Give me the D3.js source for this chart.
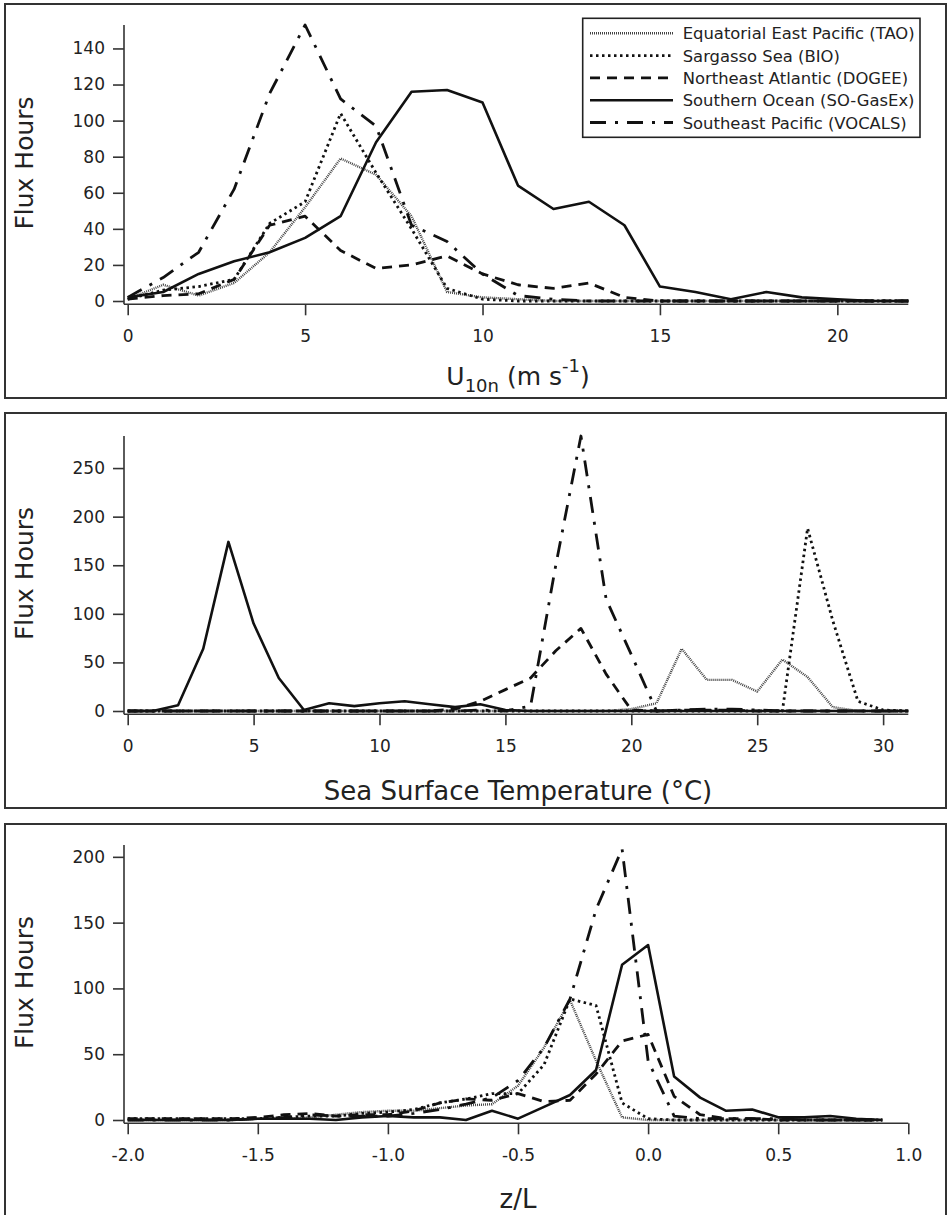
<!DOCTYPE html>
<html><head><meta charset="utf-8">
<script src="https://cdn.jsdelivr.net/npm/d3@7"></script>
<style>
html,body{margin:0;padding:0;background:#fff;}
svg{display:block;}
text{font-family:"DejaVu Sans","Lucida Grande",sans-serif;fill:#222;}
</style></head><body>
<svg id="chart" width="951" height="1215"></svg>
<script>
// ---------- DATA ----------
const seriesNames = [
  "Equatorial East Pacific (TAO)",
  "Sargasso Sea (BIO)",
  "Northeast Atlantic (DOGEE)",
  "Southern Ocean (SO-GasEx)",
  "Southeast Pacific (VOCALS)"
];

// Panel 1: wind speed U10n bins (m/s)
const windBins   = [0,1,2,3,4,5,6,7,8,9,10,11,12,13,14,15,16,17,18,19,20,21,22];
const windTAO    = [1,9,3,10,27,52,79,70,47,5,2,1,0,0,0,0,0,0,0,0,0,0,0];
const windBIO    = [1,6,8,12,43,55,104,71,40,7,1,0,0,0,0,0,0,0,0,0,0,0,0];
const windDOGEE  = [1,3,4,12,42,47,28,18,20,25,15,9,7,10,2,0,0,0,0,0,0,0,0];
const windSO     = [2,5,15,22,27,35,47,88,116,117,110,64,51,55,42,8,5,1,5,2,1,0,0];
const windVOCALS = [2,13,27,62,115,153,112,97,42,33,15,3,1,0,0,0,0,0,0,0,0,0,0];
const windXTicks = [0,5,10,15,20];
const windXLabels = ["0","5","10","15","20"];
const windYTicks = [0,20,40,60,80,100,120,140];
const windYLabels = ["0","20","40","60","80","100","120","140"];

// Panel 2: sea surface temperature bins (deg C)
const sstBins   = [0,1,2,3,4,5,6,7,8,9,10,11,12,13,14,15,16,17,18,19,20,21,22,23,24,25,26,27,28,29,30,31];
const sstTAO    = [0,0,0,0,0,0,0,0,0,0,0,0,0,0,0,0,0,0,0,0,2,8,64,32,32,20,53,35,4,0,0,0];
const sstBIO    = [0,0,0,0,0,0,0,0,0,0,0,0,0,0,0,0,0,0,0,0,0,0,0,0,0,0,0,188,93,10,1,0];
const sstDOGEE  = [0,0,0,0,0,0,0,0,0,0,0,0,0,2,10,22,34,62,85,38,1,0,1,1,1,0,0,0,0,0,0,0];
const sstSO     = [0,0,6,64,174,90,34,1,8,5,8,10,7,4,7,1,0,0,0,0,0,0,0,0,0,0,0,0,0,0,0,0];
const sstVOCALS = [0,0,0,0,0,0,0,0,0,0,0,0,0,0,1,0,5,150,283,115,58,0,1,2,2,1,0,0,0,0,0,0];
const sstXTicks = [0,5,10,15,20,25,30];
const sstXLabels = ["0","5","10","15","20","25","30"];
const sstYTicks = [0,50,100,150,200,250];
const sstYLabels = ["0","50","100","150","200","250"];

// Panel 3: stability z/L bins
const zlBins   = [-2.0,-1.9,-1.8,-1.7,-1.6,-1.5,-1.4,-1.3,-1.2,-1.1,-1.0,-0.9,-0.8,-0.7,-0.6,-0.5,-0.4,-0.3,-0.2,-0.1,0.0,0.1,0.2,0.3,0.4,0.5,0.6,0.7,0.8,0.9];
const zlTAO    = [0,0,0,0,0,1,1,2,4,6,7,7,9,11,12,26,55,91,45,2,0,0,0,0,0,0,0,0,0,0];
const zlBIO    = [1,1,1,1,1,1,2,3,3,5,6,8,13,16,20,20,42,92,87,13,1,0,0,0,0,0,0,0,0,0];
const zlDOGEE  = [1,1,1,1,1,2,4,5,3,4,4,7,13,16,15,20,14,15,35,60,65,18,4,1,1,0,0,0,0,0];
const zlSO     = [0,0,0,0,0,1,1,1,0,2,3,2,2,0,7,1,10,19,38,118,133,33,17,7,8,2,2,3,1,0];
const zlVOCALS = [0,0,0,0,0,1,2,4,3,3,3,5,8,12,17,30,55,92,160,206,45,3,1,1,1,1,0,0,0,0];
const zlXTicks = [-2.0,-1.5,-1.0,-0.5,0.0,0.5,1.0];
const zlXLabels = ["-2.0","-1.5","-1.0","-0.5","0.0","0.5","1.0"];
const zlYTicks = [0,50,100,150,200];
const zlYLabels = ["0","50","100","150","200"];

// ---------- STYLE / LAYOUT ----------
const lineStyles = [
  {stroke:"#444", width:2.4, dash:"1,1"},
  {stroke:"#111", width:2.8, dash:"2.5,3.5"},
  {stroke:"#111", width:2.8, dash:"10,7"},
  {stroke:"#111", width:2.6, dash:null},
  {stroke:"#111", width:2.8, dash:"16,9,3,9"}
];

const svg = d3.select("#chart");
const X0 = 127.7, X1 = 908.3, AXIS_X = 124;

const panels = [
  {bins:windBins, series:[windTAO,windBIO,windDOGEE,windSO,windVOCALS], xdom:[0,22], ymax:153,
   xt:windXTicks, xl:windXLabels, yt:windYTicks, yl:windYLabels,
   frame:[4,398], yr:[301,25], titleY:385, title:"wind"},
  {bins:sstBins, series:[sstTAO,sstBIO,sstDOGEE,sstSO,sstVOCALS], xdom:[0,31], ymax:283,
   xt:sstXTicks, xl:sstXLabels, yt:sstYTicks, yl:sstYLabels,
   frame:[413,808], yr:[711,436], titleY:800, title:"Sea Surface Temperature (°C)"},
  {bins:zlBins, series:[zlTAO,zlBIO,zlDOGEE,zlSO,zlVOCALS], xdom:[-2,1], ymax:209,
   xt:zlXTicks, xl:zlXLabels, yt:zlYTicks, yl:zlYLabels,
   frame:[824,1219], yr:[1120,845], titleY:1208, title:"z/L"}
];

panels.forEach((p, pi) => {
  const g = svg.append("g");
  g.append("rect").attr("x",5).attr("y",p.frame[0]).attr("width",941).attr("height",p.frame[1]-p.frame[0])
    .attr("fill","none").attr("stroke","#333").attr("stroke-width",2);

  const x = d3.scaleLinear().domain(p.xdom).range([X0, X1]);
  const y = d3.scaleLinear().domain([0, p.ymax]).range(p.yr);
  const axisY = p.yr[0] + 3.3;

  const line = d3.line().x(d => x(d[0])).y(d => y(d[1]));
  p.series.forEach((vals, si) => {
    const st = lineStyles[si];
    const pts = p.bins.map((b, i) => [b, vals[i]]);
    g.append("path").datum(pts).attr("d", line)
      .attr("fill","none").attr("stroke", st.stroke).attr("stroke-width", st.width)
      .attr("stroke-dasharray", st.dash).attr("stroke-linejoin","round");
  });

  g.append("line").attr("x1",AXIS_X).attr("x2",AXIS_X).attr("y1",p.yr[1]).attr("y2",axisY)
    .attr("stroke","#333").attr("stroke-width",1.6);
  g.append("line").attr("x1",AXIS_X).attr("x2",X1).attr("y1",axisY).attr("y2",axisY)
    .attr("stroke","#333").attr("stroke-width",1.6);

  const yAxis = d3.axisLeft(y).tickValues(p.yt).tickFormat((d,i)=>p.yl[i])
    .tickSize(11).tickPadding(8).tickSizeOuter(0);
  const ya = g.append("g").attr("transform",`translate(${AXIS_X},0)`).call(yAxis);
  ya.select(".domain").remove();
  ya.selectAll("line").attr("stroke","#333").attr("stroke-width",1.6);
  ya.selectAll("text").style("font-size","17px").attr("fill","#222").style("font-family",'"DejaVu Sans",sans-serif');

  const xAxis = d3.axisBottom(x).tickValues(p.xt).tickFormat((d,i)=>p.xl[i])
    .tickSize(11).tickPadding(15).tickSizeOuter(0);
  const xa = g.append("g").attr("transform",`translate(0,${axisY})`).call(xAxis);
  xa.select(".domain").remove();
  xa.selectAll("line").attr("stroke","#333").attr("stroke-width",1.6);
  xa.selectAll("text").style("font-size","17px").attr("fill","#222").style("font-family",'"DejaVu Sans",sans-serif');

  const yc = (p.yr[0] + p.yr[1]) / 2;
  g.append("text").attr("transform",`translate(33,${yc}) rotate(-90)`).attr("text-anchor","middle")
    .style("font-size","25px").text("Flux Hours");

  const xc = (X0 + X1) / 2;
  if (p.title === "wind") {
    const t = g.append("text").attr("x", xc).attr("y", p.titleY).attr("text-anchor","middle").style("font-size","25px");
    t.append("tspan").text("U");
    t.append("tspan").attr("dy",7).style("font-size","18px").text("10n");
    t.append("tspan").attr("dy",-7).text(" (m s");
    t.append("tspan").attr("dy",-13).style("font-size","18px").text("-1");
    t.append("tspan").attr("dy",13).text(")");
  } else {
    g.append("text").attr("x", xc).attr("y", p.titleY).attr("text-anchor","middle")
      .style("font-size","26px").text(p.title);
  }
});

const lg = svg.append("g");
lg.append("rect").attr("x",582.7).attr("y",18.3).attr("width",337.3).attr("height",119)
  .attr("fill","#fff").attr("stroke","#222").attr("stroke-width",1.6);
seriesNames.forEach((name, i) => {
  const cy = 33.3 + 22.3 * i;
  const st = lineStyles[i];
  lg.append("line").attr("x1",590).attr("x2",673).attr("y1",cy).attr("y2",cy)
    .attr("stroke", st.stroke).attr("stroke-width", st.width).attr("stroke-dasharray", st.dash);
  lg.append("text").attr("x",682.7).attr("y",cy+6).style("font-size","16.4px").text(name);
});
</script>
</body></html>
